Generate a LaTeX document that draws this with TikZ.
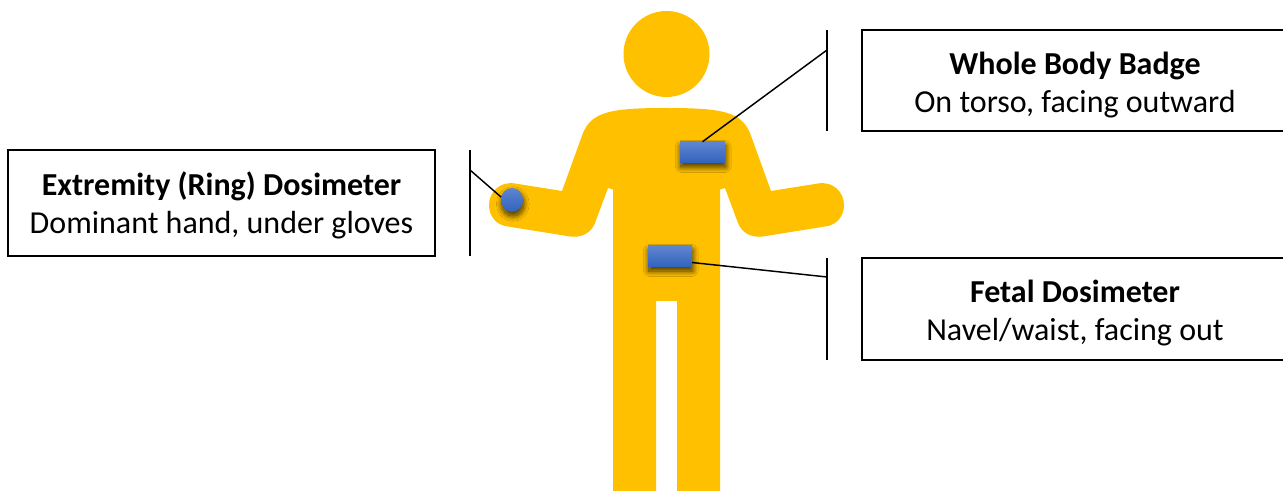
\documentclass[tikz,border=0pt]{standalone}
\usepackage{fontspec}
\setmainfont{Carlito}
\usetikzlibrary{shadows.blur,shapes.geometric}
\definecolor{bodyc}{HTML}{FFC000}
\definecolor{bluetop}{HTML}{5E85D0}
\definecolor{bluebot}{HTML}{3263BC}
\newcommand{\toplift}[1]{\rule{0pt}{#1pt}}
\tikzset{
  labelbox/.style={draw=black,line width=1.5pt,fill=white,align=center,inner sep=0pt,font=\fontsize{24pt}{28.8pt}\selectfont},
  badge/.style={inner sep=0pt,draw=none,top color=bluetop,bottom color=bluebot,blur shadow={shadow xshift=0.6pt,shadow yshift=-3pt,shadow blur steps=24,shadow opacity=75,shadow blur radius=4pt}},
  rulerline/.style={line width=1pt,black},
  leader/.style={line width=1.1pt,black}
}
\begin{document}
\begin{tikzpicture}[x=0.75pt,y=-0.75pt]
\useasboundingbox (0,0) rectangle (1283,491);
\begin{scope}
\clip (0,0) rectangle (1283,491);
% figure
\fill[bodyc] (666.5,54) circle [radius=43];
\fill[bodyc] (666.5,108)
  .. controls (610,108) and (592,112) .. (583,133)
  -- (562,191) -- (515,183.5)
  .. controls (500,181) and (489,192) .. (489,205)
  .. controls (489,216) and (496,224) .. (505,226)
  -- (570,236.5)
  .. controls (582,238) and (591,233) .. (595,223)
  -- (608,188) -- (613,189.5) -- (613,491) -- (656,491) -- (656,301) -- (677,301) -- (677,491) -- (720,491)
  -- (720,189.5) -- (725,188) -- (738,223)
  .. controls (742,233) and (751,238) .. (763,236.5)
  -- (828,226)
  .. controls (837,224) and (844,216) .. (844,205)
  .. controls (844,192) and (833,181) .. (818,183.5)
  -- (771,191) -- (750,133)
  .. controls (741,112) and (723,108) .. (666.5,108) -- cycle;
% vertical rules
\coordinate (wt) at (827,30); \coordinate (wb) at (827,131);
\coordinate (ft) at (827,258); \coordinate (fb) at (827,360);
\coordinate (et) at (470,150); \coordinate (eb) at (470,256);
\coordinate (wj) at (827,50); \coordinate (fj) at (827,277); \coordinate (ej) at (470,170);
\draw[rulerline] (wt) -- (wb);
\draw[rulerline] (ft) -- (fb);
\draw[rulerline] (et) -- (eb);
% dosimeters
\node[badge,minimum width=33.75pt,minimum height=15.75pt] (wbadge) at (702.5,152.5) {};
\node[badge,minimum width=33pt,minimum height=15.75pt] (fbadge) at (670,256.5) {};
\node[badge,ellipse,minimum width=16.5pt,minimum height=18pt] (ring) at (512,200) {};
% leaders
\coordinate (fs) at (692,262.5);
\draw[leader] (wbadge.north) -- (wj);
\draw[leader] (fs) -- (fj);
\draw[leader] (ej) -- (ring.165);
% label boxes
\node[labelbox,minimum width=319.5pt,minimum height=75.75pt] (wlabel) at (1075,80.5) {\toplift{24}\textbf{Whole Body Badge}\\On torso, facing outward};
\node[labelbox,minimum width=319.5pt,minimum height=76.5pt] (flabel) at (1075,309) {\toplift{23}\textbf{Fetal Dosimeter}\\Navel/waist, facing out};
\node[labelbox,minimum width=320.25pt,minimum height=79.5pt] (elabel) at (221.5,203) {\toplift{21.5}\textbf{Extremity (Ring) Dosimeter}\\Dominant hand, under gloves};
\end{scope}
\end{tikzpicture}
\end{document}
